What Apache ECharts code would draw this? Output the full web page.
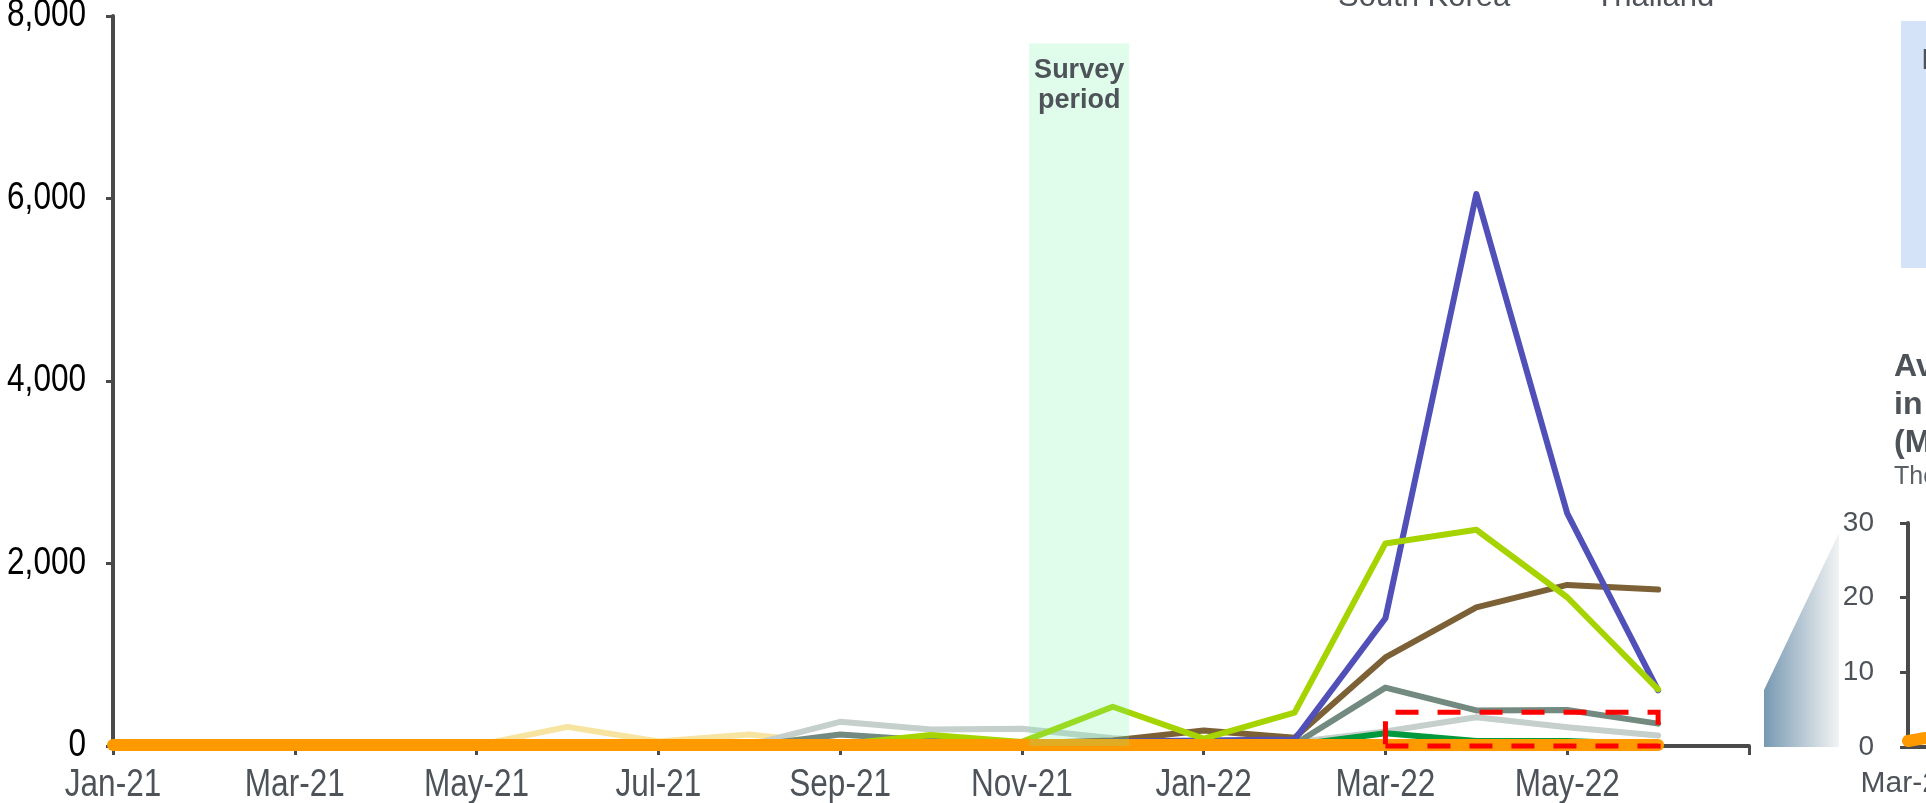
<!DOCTYPE html>
<html><head><meta charset="utf-8">
<script src="https://cdn.jsdelivr.net/npm/echarts@6/dist/echarts.min.js"></script>
<style>html,body{margin:0;padding:0;background:#fff;overflow:hidden}#c{width:1926px;height:803px}</style>
</head><body><div id="c"></div>
<script>
// ---- data ----
const months = ['Jan-21','Feb-21','Mar-21','Apr-21','May-21','Jun-21','Jul-21','Aug-21','Sep-21','Oct-21','Nov-21','Dec-21',
                'Jan-22','Feb-22','Mar-22','Apr-22','May-22','Jun-22'];
const xTickValues = [0, 2, 4, 6, 8, 10, 12, 14, 16];
const xTickLabels = ['Jan-21','Mar-21','May-21','Jul-21','Sep-21','Nov-21','Jan-22','Mar-22','May-22'];
const yTicks = [0, 2000, 4000, 6000, 8000];

const southKorea = [10,10,10,10,10,10,20,20,20,20,20,50,60,70,1400,6050,2550,610];
const seriesLime  = [0,0,0,0,0,0,0,0,20,120,45,430,80,365,2220,2370,1630,620];
const seriesBrown = [0,0,0,0,0,0,0,0,20,20,30,60,170,90,970,1520,1765,1715];
const seriesGreyGreen = [0,0,0,0,0,0,0,0,125,60,40,20,20,20,640,390,395,245];
const seriesLightGrey = [0,0,0,0,0,0,0,10,265,180,190,85,30,40,160,315,205,115];
const seriesGreen = [0,0,0,0,0,0,0,0,30,10,10,10,10,10,140,55,55,20];
const seriesYellow = [0,0,0,0,5,210,50,125,20,10,10,10,10,10,10,10,10,10];
const thailand = [10,10,10,10,10,10,10,10,10,10,10,10,10,10,10,10,10,10];

const surveyStart = 10.08, surveyEnd = 11.18, surveyTop = 7700;   // month index
const zoomFrom = 14, zoomTo = 17, zoomTop = 370;                  // Mar-22 .. Jun-22

const insetMonths = ['Mar-22','Apr-22','May-22','Jun-22'];
const insetThailand = [0.8, 3.2, 2.5, 1.5];
const insetTicks = [0, 10, 20, 30];

// ---- chart ----
const SANS = "'Liberation Sans',Arial,sans-serif";
const AXIS = '#4a4a4a';
const pts = arr => arr.map((v, i) => [i, v]);

function line(name, data, color, width, z) {
  return { name, type: 'line', data: pts(data), symbol: 'none', xAxisIndex: 0, yAxisIndex: 0,
    lineStyle: { color, width, cap: 'round', join: 'round' }, itemStyle: { color }, z, silent: true };
}

const staticGraphics = [
  { id: 'funnel', type: 'polygon', silent: true, z: 1,
    shape: { points: [[1764, 690], [1839, 533], [1839, 747], [1764, 747]] },
    style: { fill: new echarts.graphic.LinearGradient(0, 0, 1, 0, [
      { offset: 0, color: 'rgba(112,147,174,0.95)' }, { offset: 1, color: 'rgba(240,242,242,0.9)' } ]) } },
  { id: 'note', type: 'rect', silent: true, z: 1, shape: { x: 1901, y: 21, width: 60, height: 247 },
    style: { fill: '#d5e3f9' } },
  { id: 'noteText', type: 'text', silent: true, z: 2, x: 1921, y: 46,
    style: { text: 'In the survey period', font: "30px 'Liberation Sans',Arial,sans-serif", fill: '#4d5358' } },
  { id: 'insetTitle', type: 'text', silent: true, z: 2, x: 1894, y: 348,
    style: { text: 'Average daily cases\nin Thailand\n(Mar-Jun 2022)', font: "bold 32px 'Liberation Sans',Arial,sans-serif",
      lineHeight: 38, fill: '#4d5358' } },
  { id: 'insetSub', type: 'text', silent: true, z: 2, x: 1894, y: 465,
    style: { text: 'Thousands', font: "25px 'Liberation Sans',Arial,sans-serif", fill: '#5a6066' } }
];

const chart = echarts.init(document.getElementById('c'), null, { renderer: 'canvas' });
chart.setOption({
  animation: false,
  backgroundColor: '#fff',
  legend: {
    data: ['South Korea', 'Thailand'], left: 1283, top: -23, itemWidth: 45, itemHeight: 5, itemGap: 35,
    selectedMode: false, icon: 'rect',
    textStyle: { fontFamily: SANS, fontSize: 31, lineHeight: 31, color: '#4d5358' }
  },
  grid: [
    { left: 113, right: 177, top: 16, bottom: 57, outerBoundsMode: 'none', containLabel: false },
    { left: 1908, width: 300, top: 523, bottom: 56, outerBoundsMode: 'none', containLabel: false }
  ],
  xAxis: [
    { type: 'value', gridIndex: 0, min: 0, max: 18, interval: 2,
      axisLine: { lineStyle: { color: AXIS, width: 4 } },
      axisTick: { length: 9, lineStyle: { color: AXIS, width: 3 } },
      splitLine: { show: false },
      axisLabel: { show: false } },
    { type: 'category', gridIndex: 1, data: insetMonths, boundaryGap: false,
      axisLine: { lineStyle: { color: AXIS, width: 4 } },
      axisTick: { show: false },
      axisLabel: { margin: 22, fontFamily: SANS, fontSize: 30, color: '#4d5358', interval: 0 } }
  ],
  yAxis: [
    { type: 'value', gridIndex: 0, min: yTicks[0], max: yTicks[yTicks.length - 1], interval: 2000,
      axisLine: { show: true, lineStyle: { color: AXIS, width: 4 } },
      axisTick: { show: true, length: 7, lineStyle: { color: AXIS, width: 3 } },
      splitLine: { show: false },
      axisLabel: { show: false } },
    { type: 'value', gridIndex: 1, min: insetTicks[0], max: insetTicks[insetTicks.length - 1], interval: 10,
      axisLine: { show: true, lineStyle: { color: AXIS, width: 4 } },
      axisTick: { show: true, length: 8, lineStyle: { color: AXIS, width: 3 } },
      splitLine: { show: false },
      axisLabel: { margin: 34, fontFamily: SANS, fontSize: 28, color: '#4d5358' } }
  ],
  series: [
    line('Vietnam', seriesYellow, '#f7e4a0', 6, 2),
    line('Singapore', seriesLightGrey, '#c5cfcc', 6, 2),
    line('Japan', seriesGreyGreen, '#738a80', 6, 2),
    line('Taiwan', seriesGreen, '#00993d', 6, 2),
    line('Hong Kong', seriesBrown, '#7b6135', 6, 2),
    line('South Korea', southKorea, '#5050b8', 6, 2),
    line('Australia', seriesLime, '#a6d400', 6, 2),
    line('Thailand', thailand, '#ff9900', 12, 3),
    { name: 'marks', type: 'line', data: [], xAxisIndex: 0, yAxisIndex: 0, z: 5, silent: true,
      markArea: { silent: true, z: 10, data: [
        [ { coord: [surveyStart, 0], itemStyle: { color: 'rgba(107,245,164,0.21)', borderWidth: 0 },
            label: { show: true, position: 'insideTop', distance: 12, formatter: 'Survey\nperiod',
              fontFamily: SANS, fontWeight: 'bold', fontSize: 27, lineHeight: 30, color: '#4d5358' } },
          { coord: [surveyEnd, surveyTop] } ],
        [ { coord: [zoomFrom, 0], itemStyle: { color: 'rgba(0,0,0,0)', borderColor: '#ff0000', borderWidth: 5,
              borderType: [23, 19] }, label: { show: false } },
          { coord: [zoomTo, zoomTop] } ]
      ] } },
    { name: 'Thailand', type: 'line', xAxisIndex: 1, yAxisIndex: 1, data: insetThailand, symbol: 'none',
      lineStyle: { color: '#ff9900', width: 12, cap: 'round' }, itemStyle: { color: '#ff9900' }, z: 3, silent: true }
  ],
  graphic: staticGraphics
});

// Narrow tick labels placed with the library's own axis scales
const NARROW_FONT = "38px 'Liberation Sans',Arial,sans-serif";
const y0 = chart.convertToPixel({ yAxisIndex: 0 }, 0);
const xAxisX = chart.convertToPixel({ xAxisIndex: 0 }, 0);
const labelGraphics = [];
xTickValues.forEach((v, i) => {
  labelGraphics.push({ id: 'xl' + i, type: 'text', silent: true, z: 4,
    x: chart.convertToPixel({ xAxisIndex: 0 }, v), y: y0 + 40, scaleX: 0.83,
    style: { text: xTickLabels[i], font: NARROW_FONT, align: 'center', verticalAlign: 'middle', fill: '#4d5358' } });
});
yTicks.forEach((v, i) => {
  labelGraphics.push({ id: 'yl' + i, type: 'text', silent: true, z: 4,
    x: xAxisX - 27, y: chart.convertToPixel({ yAxisIndex: 0 }, v), scaleX: 0.83,
    style: { text: v.toLocaleString('en-US'), font: NARROW_FONT, align: 'right', verticalAlign: 'middle', fill: '#000' } });
});
chart.setOption({ graphic: staticGraphics.concat(labelGraphics) });
</script></body></html>
